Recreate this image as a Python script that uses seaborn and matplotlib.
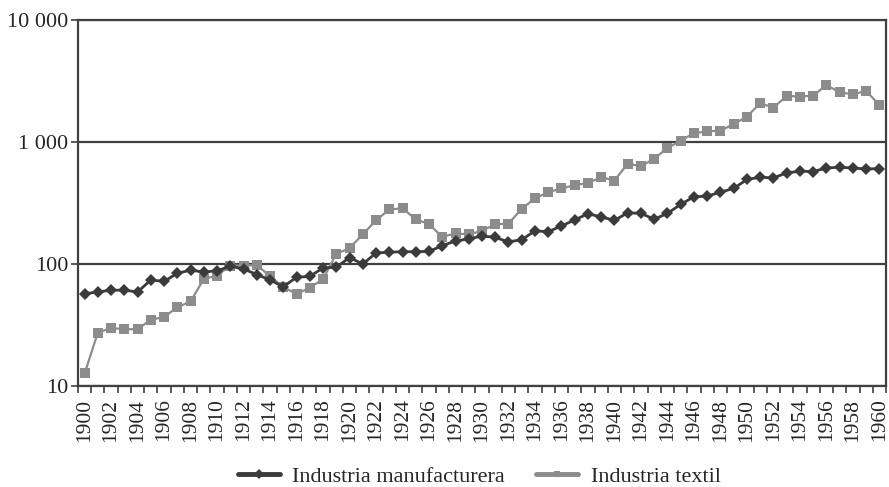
import numpy as np
import pandas as pd
import matplotlib
matplotlib.use('Agg')
import matplotlib.pyplot as plt
import matplotlib.ticker as mticker
from matplotlib.lines import Line2D
import seaborn as sns

years = list(range(1900, 1961))

manufacturera = [57, 59, 61, 61, 59, 74, 72, 84, 89, 86, 88, 96, 91, 82, 74, 65, 78, 79, 93, 94,
                 113, 100, 123, 125, 126, 126, 127, 141, 155, 160, 170, 165, 152, 158, 187, 184,
                 205, 230, 258, 243, 228, 263, 260, 233, 260, 308, 356, 360, 388, 416, 493, 514,
                 508, 558, 576, 573, 612, 621, 612, 601, 605]

textil = [12.7, 27.4, 29.9, 29.2, 29.2, 35, 36.7, 44.3, 49.3, 75.5, 80.3, 97, 97, 98, 79.3, 64.5,
          57, 63.7, 75.5, 121, 135, 175, 228, 280, 286, 233, 212, 167, 178, 175, 187, 212, 214,
          284, 345, 388, 416, 443, 462, 514, 483, 665, 632, 731, 892, 1024, 1183, 1220, 1240,
          1400, 1617, 2076, 1915, 2384, 2360, 2400, 2930, 2553, 2462, 2620, 2014]

series_names = ['Industria manufacturera', 'Industria textil']
colors = ['#3b3b3b', '#8c8c8c']
markers = ['D', 's']

df = pd.DataFrame({'year': years * 2,
                   'value': manufacturera + textil,
                   'serie': [series_names[0]] * len(years) + [series_names[1]] * len(years)})

sns.set_style('white')
plt.rcParams['font.family'] = ['Liberation Serif', 'DejaVu Serif']

fig = plt.figure(figsize=(8.89, 4.87), dpi=100)
ax = fig.add_axes([78 / 889, 1 - 386 / 487, 808 / 889, 366 / 487])

# textil below, manufacturera on top
for name, col, mk, ms, lw, z in zip(series_names, colors, markers, [6.5, 7], [2.0, 1.6], [3, 2]):
    sns.lineplot(data=df[df['serie'] == name], x='year', y='value', color=col,
                 marker=mk, markersize=ms, markeredgewidth=0, linewidth=lw, ax=ax,
                 label=name, zorder=z)

ax.set_yscale('log')
ax.set_ylim(10, 10000)
ax.set_xlim(1899.5, 1960.5)
ax.yaxis.set_major_locator(mticker.FixedLocator([10, 100, 1000, 10000]))
ax.yaxis.set_minor_locator(mticker.NullLocator())
ax.yaxis.set_major_formatter(mticker.FuncFormatter(lambda v, p: f'{int(v):,}'.replace(',', ' ')))
ax.grid(axis='y', color='#404040', linewidth=1.6)
ax.set_axisbelow(True)

ax.set_xticks(years[::2])
ax.set_xticklabels([str(y) for y in years[::2]], rotation=90)
ax.xaxis.set_minor_locator(mticker.FixedLocator(np.arange(1899.5, 1961, 1)))
ax.tick_params(axis='x', which='major', length=0, pad=9, labelsize=15.5)
ax.tick_params(axis='x', which='minor', length=5, width=1.2, color='#404040', direction='out', bottom=True)
ax.tick_params(axis='y', which='major', length=5, width=1.2, color='#404040', left=True,
               labelsize=16, pad=2)

for sp in ax.spines.values():
    sp.set_color('#404040')
    sp.set_linewidth(1.6)

ax.set_xlabel('')
ax.set_ylabel('')
ax.legend_.remove()

handles = [Line2D([], [], color=c, marker=m, markersize=5, markeredgewidth=0, linewidth=3.5)
           for c, m in zip(colors, markers)]
fig.legend(handles, series_names, loc='center', ncol=2, frameon=False,
           bbox_to_anchor=(0.539, 0.022), fontsize=16, handlelength=1.9,
           handletextpad=0.55, columnspacing=1.4)

fig.savefig('out.png', dpi=100)
